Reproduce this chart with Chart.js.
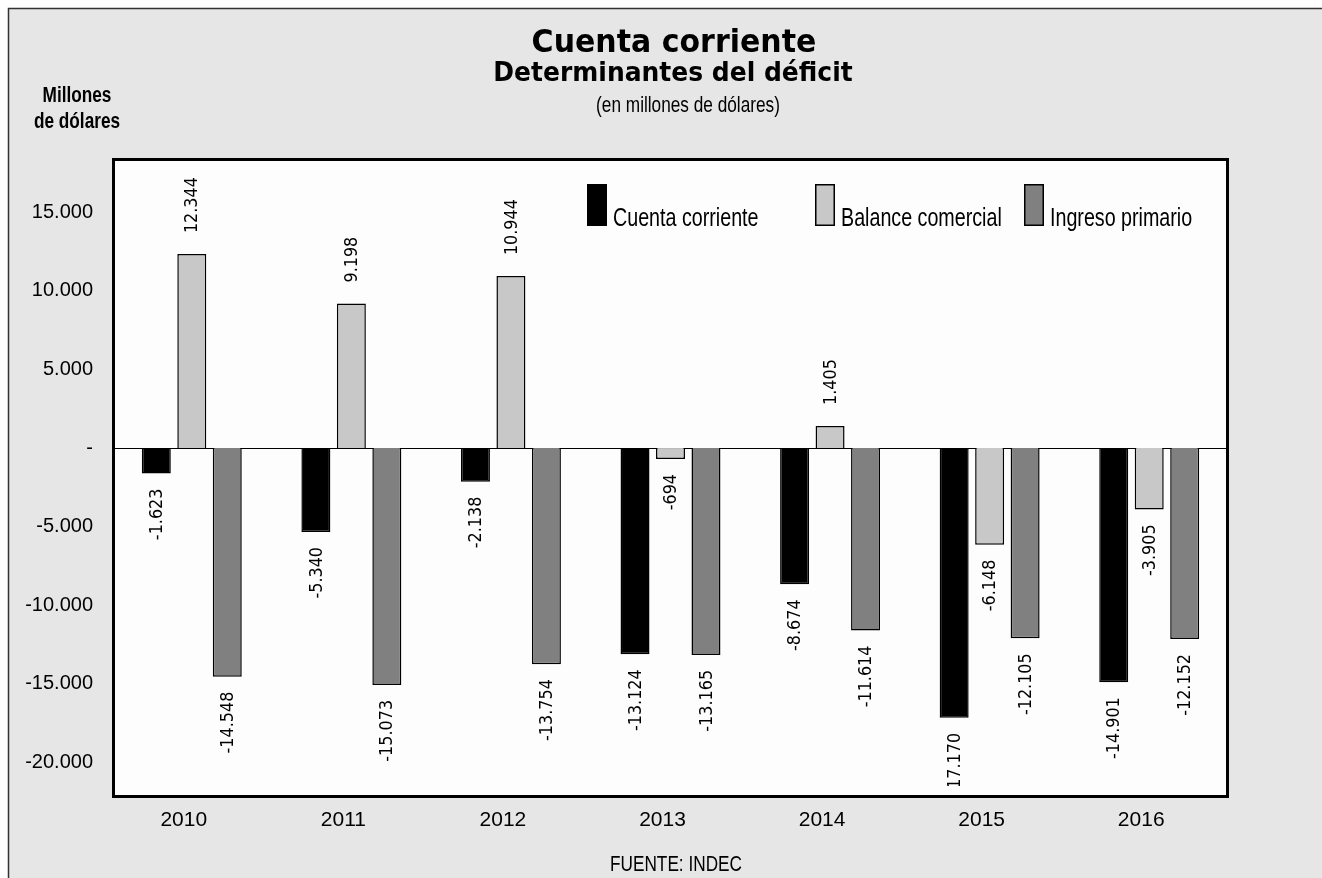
<!DOCTYPE html>
<html>
<head>
<meta charset="utf-8">
<script src="https://cdn.jsdelivr.net/npm/chart.js@4.4.1/dist/chart.umd.min.js"></script>
<style>
  html, body { margin: 0; padding: 0; background: #ffffff; }
  #wrap { width: 1322px; height: 878px; position: relative; }
</style>
</head>
<body>
<div id="wrap"><canvas id="grafico" width="1322" height="878"></canvas></div>
<script>
// Datos (millones de dólares)
const anios = ["2010", "2011", "2012", "2013", "2014", "2015", "2016"];
const cuentaCorriente = [-1623, -5340, -2138, -13124, -8674, -17170, -14901];
const balanceComercial = [12344, 9198, 10944, -694, 1405, -6148, -3905];
const ingresoPrimario = [-14548, -15073, -13754, -13165, -11614, -12105, -12152];
const nombresSeries = ["Cuenta corriente", "Balance comercial", "Ingreso primario"];

const fuenteArial = '"Liberation Sans", Arial, sans-serif';

// separador de miles con punto
function formatear(v) {
  const s = Math.abs(v).toFixed(0).replace(/\B(?=(\d{3})+(?!\d))/g, ".");
  return (v < 0 ? "-" : "") + s;
}

// texto angosto (imita Arial Narrow)
function textoAngosto(ctx, texto, x, y, size, bold, align, baseline) {
  ctx.save();
  ctx.translate(x, y);
  ctx.scale(0.82, 1.08);
  ctx.font = (bold ? "bold " : "") + size + "px " + fuenteArial;
  ctx.textAlign = align;
  ctx.textBaseline = baseline;
  ctx.fillText(texto, 0, 0);
  ctx.restore();
}

// fondo gris con marco, area blanca
const fondoPlugin = {
  id: "fondo",
  beforeDraw(chart) {
    const ctx = chart.ctx;
    const a = chart.chartArea;
    ctx.save();
    ctx.fillStyle = "#ffffff";
    ctx.fillRect(0, 0, chart.width, chart.height);
    ctx.fillStyle = "#e6e6e6";
    ctx.fillRect(8, 8, chart.width - 8, chart.height - 8);
    ctx.strokeStyle = "#333333";
    ctx.lineWidth = 1.5;
    ctx.beginPath();
    ctx.moveTo(8.5, chart.height);
    ctx.lineTo(8.5, 8.5);
    ctx.lineTo(chart.width, 8.5);
    ctx.stroke();
    ctx.fillStyle = "#fdfdfd";
    ctx.fillRect(a.left, a.top, a.right - a.left, a.bottom - a.top);
    ctx.restore();
  },
  beforeDatasetsDraw(chart) {
    // linea del cero
    const ctx = chart.ctx;
    const a = chart.chartArea;
    const y0 = Math.round(chart.scales.y.getPixelForValue(0)) + 0.5;
    ctx.save();
    ctx.strokeStyle = "#000000";
    ctx.lineWidth = 1.2;
    ctx.beginPath();
    ctx.moveTo(a.left, y0);
    ctx.lineTo(a.right, y0);
    ctx.stroke();
    ctx.restore();
  }
};

// etiquetas verticales, leyenda, borde y textos
const textosPlugin = {
  id: "textos",
  afterDatasetsDraw(chart) {
    const ctx = chart.ctx;
    const a = chart.chartArea;

    // etiquetas de datos (el borde inferior tapa el signo de -17.170)
    ctx.save();
    ctx.beginPath();
    ctx.rect(a.left, a.top, a.right - a.left, a.bottom - a.top - 12);
    ctx.clip();
    ctx.fillStyle = "#000000";
    ctx.font = '16px "DejaVu Sans", sans-serif';
    ctx.textBaseline = "middle";
    chart.data.datasets.forEach((ds, i) => {
      chart.getDatasetMeta(i).data.forEach((bar, j) => {
        const v = ds.data[j];
        ctx.save();
        if (v >= 0) {
          ctx.translate(bar.x + 1, bar.y - 21);
          ctx.rotate(-Math.PI / 2);
          ctx.textAlign = "left";
        } else {
          ctx.translate(bar.x + 1, bar.y + 15);
          ctx.rotate(-Math.PI / 2);
          ctx.textAlign = "right";
        }
        ctx.scale(1, 1.12);
        ctx.fillText(formatear(v), 0, 0);
        ctx.restore();
      });
    });
    ctx.restore();

    // leyenda dentro del area
    const posX = [475, 703, 912];
    ctx.save();
    chart.data.datasets.forEach((ds, i) => {
      const x = a.left + posX[i];
      const y = a.top + 26;
      ctx.fillStyle = ds.backgroundColor;
      ctx.fillRect(x, y, 20, 42);
      ctx.strokeStyle = "#000000";
      ctx.lineWidth = 1.5;
      ctx.strokeRect(x + 0.75, y + 0.75, 18.5, 40.5);
      ctx.fillStyle = "#000000";
      textoAngosto(ctx, ds.label, x + 26, y + 42, 24, false, "left", "alphabetic");
    });
    ctx.restore();

    // borde grueso del area
    ctx.save();
    ctx.strokeStyle = "#000000";
    ctx.lineWidth = 3;
    ctx.strokeRect(a.left + 1.5, a.top + 1.5, a.right - a.left - 3, a.bottom - a.top - 3);
    ctx.restore();

    // titulos
    ctx.save();
    ctx.fillStyle = "#000000";
    ctx.textAlign = "center";
    ctx.textBaseline = "middle";
    ctx.save();
    ctx.translate(674, 44);
    ctx.scale(1, 1.08);
    ctx.font = 'bold 30px "DejaVu Sans", sans-serif';
    ctx.fillText("Cuenta corriente", 0, 0);
    ctx.restore();
    ctx.save();
    ctx.translate(673, 74);
    ctx.scale(1, 1.08);
    ctx.font = 'bold 25px "DejaVu Sans", sans-serif';
    ctx.fillText("Determinantes del déficit", 0, 0);
    ctx.restore();
    textoAngosto(ctx, "(en millones de dólares)", 688, 106, 21, false, "center", "middle");
    textoAngosto(ctx, "Millones", 77, 96, 21, true, "center", "middle");
    textoAngosto(ctx, "de dólares", 77, 122, 21, true, "center", "middle");
    textoAngosto(ctx, "FUENTE: INDEC", 676, 865, 21, false, "center", "middle");
    ctx.restore();
  }
};

const ctx = document.getElementById("grafico").getContext("2d");
new Chart(ctx, {
  type: "bar",
  data: {
    labels: anios,
    datasets: [
      {
        label: nombresSeries[0],
        data: cuentaCorriente,
        backgroundColor: "#000000",
        borderColor: "#000000",
        borderWidth: 1.5,
      },
      {
        label: nombresSeries[1],
        data: balanceComercial,
        backgroundColor: "#c8c8c8",
        borderColor: "#000000",
        borderWidth: 1.5,
      },
      {
        label: nombresSeries[2],
        data: ingresoPrimario,
        backgroundColor: "#808080",
        borderColor: "#000000",
        borderWidth: 1.5,
      },
    ],
  },
  options: {
    responsive: false,
    animation: false,
    devicePixelRatio: 1,
    categoryPercentage: 0.667,
    barPercentage: 0.817,
    layout: { padding: { top: 158, left: 0, right: 93, bottom: 0 } },
    scales: {
      x: {
        grid: { display: false, drawTicks: false },
        border: { display: false },
        ticks: {
          color: "#000000",
          padding: 10,
          labelOffset: -8,
          font: { family: fuenteArial, size: 21 },
        },
        afterFit(scale) { scale.height = 80; },
      },
      y: {
        min: -22270,
        max: 18460,
        grid: { display: false, drawTicks: false },
        border: { display: false },
        afterBuildTicks(scale) {
          const t = [];
          for (let v = -20000; v <= 15000; v += 5000) t.push({ value: v });
          scale.ticks = t;
        },
        ticks: {
          color: "#000000",
          padding: 19,
          font: { family: fuenteArial, size: 20 },
          callback: (v) => (v === 0 ? "-" : formatear(v)),
        },
        afterFit(scale) { scale.width = 112; },
      },
    },
    plugins: {
      legend: { display: false },
      title: { display: false },
      tooltip: { enabled: false },
    },
  },
  plugins: [fondoPlugin, textosPlugin],
});
</script>
</body>
</html>
